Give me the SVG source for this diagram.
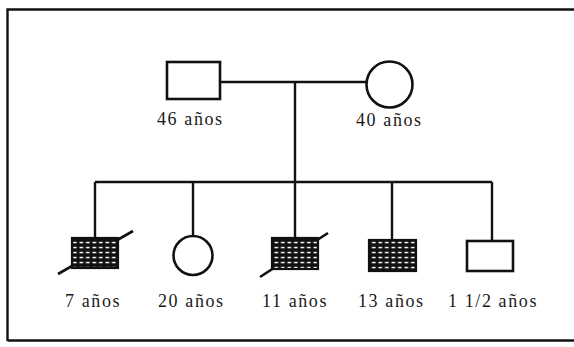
<svg xmlns="http://www.w3.org/2000/svg" width="574" height="347" viewBox="0 0 574 347">
<style>
.ln{stroke:#111;stroke-width:2.4;fill:none}
.sh{stroke:#111;stroke-width:2.6;fill:#fff}
.af{stroke:#111;stroke-width:2.2;fill:url(#hatch)}
.sl{stroke:#111;stroke-width:2.6}
text{font-family:"Liberation Serif","Times New Roman",serif;font-size:18px;fill:#1a1a1a;letter-spacing:1.6px}
</style>
<defs>
<pattern id="hatch" patternUnits="userSpaceOnUse" x="0" y="0" width="6.5" height="5">
<rect width="6.5" height="5" fill="#111"/>
<rect x="1.5" y="1.8" width="3.6" height="1.5" fill="#fff"/>
</pattern>
</defs>
<rect width="574" height="347" fill="#fff"/>
<g id="frame">
<path class="ln" d="M7.5,341 V9.5 H574" stroke-width="2.2"/>
<path class="ln" d="M7.5,340.5 H574" stroke-width="2"/>
</g>
<g id="connectors">
<path class="ln" d="M220,82 H366"/>
<path class="ln" d="M295,82 V182"/>
<path class="ln" d="M95,182 H492"/>
<path class="ln" d="M95,182 V238"/>
<path class="ln" d="M193,182 V236"/>
<path class="ln" d="M295,182 V238"/>
<path class="ln" d="M392,182 V240"/>
<path class="ln" d="M492,182 V241"/>
</g>
<g id="father">
<rect class="sh" x="167" y="62" width="53" height="37"/>
<text x="157" y="125">46 años</text>
</g>
<g id="mother">
<circle class="sh" cx="389.5" cy="84.5" r="23"/>
<text x="356" y="126">40 años</text>
</g>
<g id="child1">
<line class="sl" x1="58" y1="274" x2="133" y2="231"/>
<rect class="af" x="72" y="238" width="46" height="30"/>
<text x="65" y="307">7 años</text>
</g>
<g id="child2">
<circle class="sh" cx="193" cy="255.5" r="19.5"/>
<text x="158" y="307">20 años</text>
</g>
<g id="child3">
<line class="sl" x1="260" y1="277" x2="328" y2="233"/>
<rect class="af" x="272" y="238" width="46" height="31"/>
<text x="262" y="307">11 años</text>
</g>
<g id="child4">
<rect class="af" x="369" y="240" width="47" height="31"/>
<text x="358" y="307">13 años</text>
</g>
<g id="child5">
<rect class="sh" x="467" y="241" width="46" height="30"/>
<text x="448" y="307">1 1/2 años</text>
</g>
</svg>
